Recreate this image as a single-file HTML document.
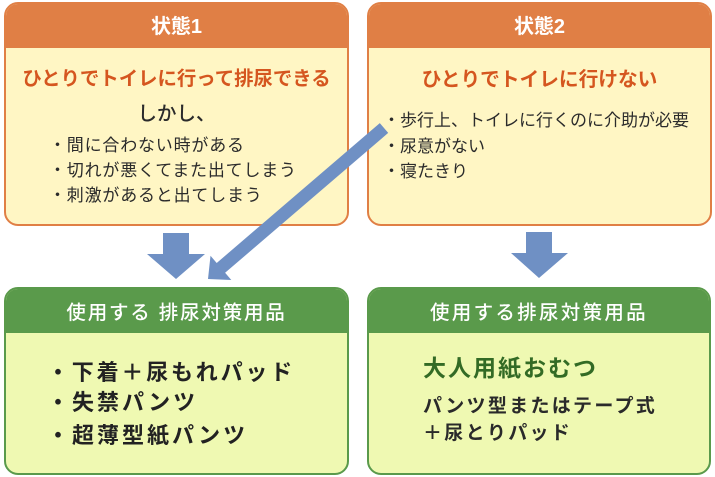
<!DOCTYPE html>
<html><head><meta charset="utf-8">
<style>
html,body{margin:0;padding:0;background:#fff;}
body{width:715px;height:477px;position:relative;overflow:hidden;font-family:"Liberation Sans","Noto Sans CJK JP",sans-serif;}
.box{position:absolute;box-sizing:border-box;border:2px solid;border-radius:14px;overflow:hidden;}
.o{border-color:#e07f45;background:#fff6c4;}
.g{border-color:#5a9a4b;background:#eff9b2;}
.hd{position:absolute;left:0;top:0;right:0;height:44px;}
.o .hd{background:#e07f45;}
.g .hd{background:#5a9a4b;}
.t{position:absolute;white-space:nowrap;}
.c{text-align:center;}
</style></head>
<body>
<div class="box o" style="left:4px;top:2px;width:345px;height:224px;"><div class="hd"></div></div>
<div class="box o" style="left:367px;top:2px;width:345px;height:224px;"><div class="hd"></div></div>
<div class="box g" style="left:4px;top:287px;width:345px;height:188px;"><div class="hd"></div></div>
<div class="box g" style="left:367px;top:287px;width:344px;height:188px;"><div class="hd"></div></div>

<!-- headers -->
<div class="t c" style="left:4px;width:345px;top:12px;line-height:30px;font-size:20px;font-weight:700;color:#fff;">状態1</div>
<div class="t c" style="left:367px;width:345px;top:12px;line-height:30px;font-size:20px;font-weight:700;color:#fff;">状態2</div>

<!-- box1 -->
<div class="t c" style="left:4px;width:345px;top:64px;line-height:30px;font-size:19.4px;font-weight:700;color:#d5561f;">ひとりでトイレに行って排尿できる</div>
<div class="t c" style="left:4px;width:345px;top:99px;line-height:30px;font-size:19.5px;font-weight:500;color:#2b2b2b;">しかし、</div>
<div class="t" style="left:49px;top:134px;line-height:24px;font-size:17px;letter-spacing:0.8px;color:#2b2b2b;">・間に合わない時がある</div>
<div class="t" style="left:49px;top:159px;line-height:24px;font-size:17px;letter-spacing:0.8px;color:#2b2b2b;">・切れが悪くてまた出てしまう</div>
<div class="t" style="left:49px;top:184px;line-height:24px;font-size:17px;letter-spacing:0.8px;color:#2b2b2b;">・刺激があると出てしまう</div>

<!-- box2 -->
<div class="t c" style="left:367px;width:345px;top:65px;line-height:30px;font-size:19.7px;font-weight:700;color:#d5561f;">ひとりでトイレに行けない</div>
<div class="t" style="left:383px;top:109px;line-height:24px;font-size:17px;color:#2b2b2b;">・歩行上、トイレに行くのに介助が必要</div>
<div class="t" style="left:383px;top:135px;line-height:24px;font-size:17px;color:#2b2b2b;">・尿意がない</div>
<div class="t" style="left:383px;top:160px;line-height:24px;font-size:17px;color:#2b2b2b;">・寝たきり</div>

<!-- box3 -->
<div class="t c" style="left:4px;width:345px;top:298px;line-height:30px;font-size:19.5px;letter-spacing:1.8px;font-weight:500;color:#fff;">使用する 排尿対策用品</div>
<div class="t" style="left:47px;top:358px;line-height:30px;font-size:22px;letter-spacing:2.8px;font-weight:700;color:#222;">・下着＋尿もれパッド</div>
<div class="t" style="left:47px;top:388px;line-height:30px;font-size:22px;letter-spacing:3px;font-weight:700;color:#222;">・失禁パンツ</div>
<div class="t" style="left:47px;top:421px;line-height:30px;font-size:22px;letter-spacing:3px;font-weight:700;color:#222;">・超薄型紙パンツ</div>

<!-- box4 -->
<div class="t c" style="left:367px;width:344px;top:298px;line-height:30px;font-size:19.5px;letter-spacing:2.3px;font-weight:500;color:#fff;">使用する排尿対策用品</div>
<div class="t" style="left:423px;top:353px;line-height:30px;font-size:23px;letter-spacing:2px;font-weight:700;color:#336b25;">大人用紙おむつ</div>
<div class="t" style="left:423px;top:394px;line-height:26px;font-size:19px;letter-spacing:2.3px;font-weight:700;color:#2a2a2a;">パンツ型またはテープ式</div>
<div class="t" style="left:423px;top:421px;line-height:26px;font-size:19px;letter-spacing:2.3px;font-weight:700;color:#2a2a2a;">＋尿とりパッド</div>

<!-- arrows -->
<svg style="position:absolute;left:0;top:0;" width="715" height="477" viewBox="0 0 715 477">
<polygon fill="#6f90c4" points="163,233 189,233 189,254 205,254 176,279 147,254 163,254"/>
<polygon fill="#6f90c4" points="526,232 552,232 552,253 568,253 539,278 511,253 526,253"/>
<polygon fill="#6f90c4" points="208,279 231.3,280 225.1,272.8 388.2,132.9 379.8,123.1 216.7,263 210.5,255.8"/>
</svg>
</body></html>
